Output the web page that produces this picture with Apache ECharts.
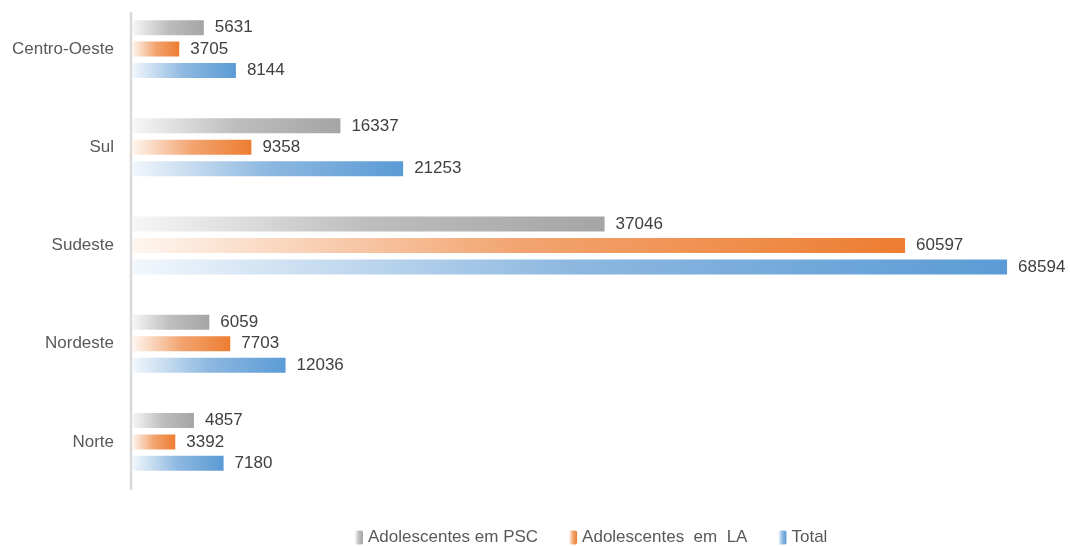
<!DOCTYPE html>
<html>
<head>
<meta charset="utf-8">
<script src="https://cdn.jsdelivr.net/npm/echarts@6/dist/echarts.min.js"></script>
<style>html,body{margin:0;padding:0;background:#fff}#c{width:1070px;height:546px}</style>
</head>
<body>
<div id="c"></div>
<script>
const categories = ['Norte', 'Nordeste', 'Sudeste', 'Sul', 'Centro-Oeste'];
const psc = [4857, 6059, 37046, 16337, 5631];
const la = [3392, 7703, 60597, 9358, 3705];
const total = [7180, 12036, 68594, 21253, 8144];
const seriesNames = ['Adolescentes em PSC', 'Adolescentes  em  LA', 'Total'];

const FONT = 'Liberation Sans';
function grad(c0, c1, c2) {
  return new echarts.graphic.LinearGradient(0, 0, 1, 0, [
    { offset: 0, color: c0 }, { offset: 0.5, color: c1 }, { offset: 1, color: c2 }
  ]);
}
const label = { show: true, position: 'right', distance: 11, color: '#404040', fontSize: 17, fontFamily: FONT };
const chart = echarts.init(document.getElementById('c'));
chart.setOption({
  animation: false,
  grid: { left: 132, right: 45, top: -2, bottom: 55, containLabel: false },
  xAxis: { type: 'value', min: 0, max: 70000, show: false },
  yAxis: {
    type: 'category', data: categories,
    axisLine: { show: false }, axisTick: { show: false },
    axisLabel: { color: '#595959', fontSize: 17, fontFamily: FONT, margin: 18 }
  },
  legend: {
    top: 524, left: 350, itemWidth: 8, itemHeight: 14, itemGap: 31, padding: 5,
    textStyle: { color: '#595959', fontSize: 17, fontFamily: FONT },
    data: [seriesNames[0], seriesNames[1], seriesNames[2]]
  },
  graphic: [{ type: 'line', shape: { x1: 131, y1: 12, x2: 131, y2: 490 }, style: { stroke: '#d9d9d9', lineWidth: 2.5 } }],
  series: [
    { name: seriesNames[0], type: 'bar', data: psc, barWidth: 15, barGap: '43%', label,
      itemStyle: { color: grad('#f7f7f7', '#bdbdbd', '#a5a5a5') } },
    { name: seriesNames[1], type: 'bar', data: la, barWidth: 15, barGap: '43%', label,
      itemStyle: { color: grad('#fef6f0', '#f2a470', '#ed7d31') } },
    { name: seriesNames[2], type: 'bar', data: total, barWidth: 15, barGap: '43%', label,
      itemStyle: { color: grad('#f2f7fc', '#8db8e0', '#5b9bd5') } }
  ]
});
</script>
</body>
</html>
